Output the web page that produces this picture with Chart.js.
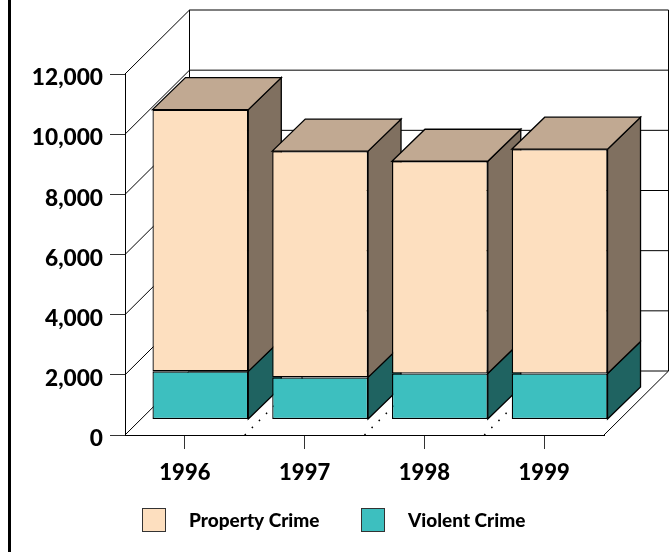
<!DOCTYPE html>
<html lang="en">
<head>
    <meta charset="UTF-8">
    <title>Crime 1996-1999</title>
<script src="https://cdn.jsdelivr.net/npm/chart.js@4/dist/chart.umd.min.js"></script>
<style>
    html, body { margin: 0; padding: 0; background: #fff; }
    #rule { position: absolute; left: 8px; top: 0; width: 3px; height: 552px; background: #000; }
    #myChart { position: absolute; left: 0; top: 0; }
</style>
</head>
<body>
    <canvas id="myChart" width="671" height="552"></canvas>
    <div id="rule"></div>
<script>
const years = ['1996', '1997', '1998', '1999'];
const property = [8700, 7520, 7055, 7455];
const violent = [1600, 1400, 1530, 1530];
const yTickLabels = ['0', '2,000', '4,000', '6,000', '8,000', '10,000', '12,000'];

const fontName = 'Lato, sans-serif';

// room depth and where the bars stand inside it
const wallDx = 64.5, wallDy = -64;
const barShiftX = 15.5, barShiftY = -15.5, barDepth = 33;

const line = function(c, x1, y1, x2, y2) {
    c.beginPath();
    c.moveTo(x1, y1);
    c.lineTo(x2, y2);
    c.stroke();
}

const poly = function(c, pts, fill) {
    c.beginPath();
    c.moveTo(pts[0][0], pts[0][1]);
    for (var i = 1; i < pts.length; i++) c.lineTo(pts[i][0], pts[i][1]);
    c.closePath();
    c.fillStyle = fill;
    c.fill();
    c.stroke();
}

const room = {
    id: 'room',
    beforeDatasetsDraw(chart) {
        const c = chart.ctx, a = chart.chartArea, y = chart.scales.y, x = chart.scales.x;
        c.save();
        c.strokeStyle = '#000';
        c.lineWidth = 1;
        const backX = a.left + wallDx, backRight = a.right + wallDx;
        yTickLabels.forEach(function(t, i) {
            const py = y.getPixelForValue(i * 2000);
            line(c, a.left, py, backX, py + wallDy);
            line(c, backX, py + wallDy, backRight, py + wallDy);
        });
        line(c, backX, y.getPixelForValue(12000) + wallDy, backX, a.bottom + wallDy);
        line(c, backRight, y.getPixelForValue(12000) + wallDy, backRight, a.bottom + wallDy);
        line(c, a.right, a.bottom, backRight, a.bottom + wallDy);

        // dotted floor lines between the categories
        c.lineWidth = 1.5;
        c.setLineDash([1.5, 8.5]);
        for (var i = 0; i < years.length - 1; i++) {
            const sx = (x.getPixelForValue(i) + x.getPixelForValue(i + 1)) / 2;
            line(c, sx, a.bottom, sx + wallDx, a.bottom + wallDy);
        }
        c.setLineDash([]);

        // bar sides and tops, left to right, fronts come from the library afterwards
        c.translate(barShiftX, barShiftY);
        c.lineWidth = 1.3;
        const low = chart.getDatasetMeta(0).data, high = chart.getDatasetMeta(1).data;
        const d = barDepth, u = -32;
        low.forEach(function(b, i) {
            const t = high[i];
            const r = b.x + b.width / 2, l = b.x - b.width / 2;
            poly(c, [[r, b.base], [r + d, b.base + u], [r + d, b.y + u], [r, b.y]], '#1f6361');
            poly(c, [[r, b.y], [r + d, b.y + u], [r + d, t.y + u], [r, t.y]], '#807060');
            poly(c, [[l, t.y], [l + d, t.y + u], [r + d, t.y + u], [r, t.y]], '#c1a992');
        });
        c.restore();

        // library bars get drawn moved into the room
        c.save();
        c.translate(barShiftX, barShiftY);
    },
    afterDatasetsDraw(chart) {
        chart.ctx.restore();
    },
    afterDraw(chart) {
        const c = chart.ctx;
        // legend order in the picture is property first
        const spots = [[361, 408], [142, 189]];
        c.save();
        c.font = '900 19px ' + fontName;
        c.textBaseline = 'middle';
        chart.data.datasets.forEach(function(ds, i) {
            c.fillStyle = ds.backgroundColor;
            c.strokeStyle = '#333';
            c.lineWidth = 1;
            c.fillRect(spots[i][0], 508, 24, 24);
            c.strokeRect(spots[i][0] + 0.5, 508.5, 23, 23);
            c.fillStyle = '#000';
            c.fillText(ds.label, spots[i][1], 521);
        });
        c.restore();
    }
};

const ctx = document.getElementById('myChart').getContext('2d');
const myChart = new Chart(ctx, {
    type: 'bar',
    data: {
        labels: years,
        datasets: [
            { label: 'Violent Crime', data: violent, backgroundColor: '#3dbfbf' },
            { label: 'Property Crime', data: property, backgroundColor: '#fddfbf' }
        ]
    },
    options: {
        responsive: false,
        animation: false,
        layout: { padding: { top: 74, right: 67, left: 0, bottom: 0 } },
        datasets: {
            bar: {
                barPercentage: 0.8,
                categoryPercentage: 1,
                borderColor: '#000',
                borderWidth: 1.3,
                borderSkipped: false,
                clip: false
            }
        },
        plugins: { legend: { display: false }, tooltip: { enabled: false } },
        scales: {
            x: {
                stacked: true,
                afterFit(scale) { scale.height = 117; },
                grid: { offset: false, drawOnChartArea: false, tickLength: 14, tickColor: '#333', tickWidth: 1 },
                border: { color: '#000', width: 1 },
                ticks: { color: '#000', padding: 11, maxRotation: 0, font: { family: fontName, weight: 900, size: 22 } }
            },
            y: {
                stacked: true,
                min: 0,
                max: 12000,
                afterFit(scale) { scale.width = 125; },
                grid: { drawOnChartArea: false, tickLength: 15, tickColor: '#333', tickWidth: 1 },
                border: { color: '#000', width: 1 },
                ticks: {
                    stepSize: 2000,
                    color: '#000',
                    padding: 7,
                    // empty first line pushes the number down off the tick, as in the picture
                    font: { family: fontName, weight: 900, size: 22.7, lineHeight: '8px' },
                    callback: function(v) { return ['', yTickLabels[v / 2000]]; }
                }
            }
        }
    },
    plugins: [room]
});
</script>
</body>
</html>
